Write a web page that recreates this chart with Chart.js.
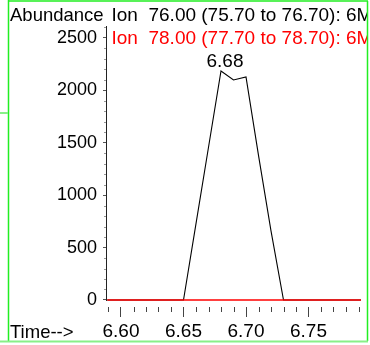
<!DOCTYPE html>
<html>
<head>
<meta charset="utf-8">
<script src="https://cdn.jsdelivr.net/npm/chart.js@4"></script>
<style>
  html, body { margin: 0; padding: 0; background: #ffffff; }
  canvas { display: block; }
</style>
</head>
<body>
<canvas id="c" width="370" height="345"></canvas>
<script>
// ---- data ----
const scanTimes = [6.589, 6.60, 6.61, 6.62, 6.63, 6.64, 6.65, 6.66, 6.67, 6.68, 6.69, 6.70, 6.71, 6.72, 6.73, 6.74, 6.75, 6.76, 6.77, 6.78, 6.792];
const ion76 = [0, 0, 0, 0, 0, 0, 0, 728, 1457, 2185, 2099, 2128, 1380, 660, 0, 0, 0, 0, 0, 0, 0];
const ion78 = [0, 0, 0, 0, 0, 0, 0, 0, 0, 0, 0, 0, 0, 0, 0, 0, 0, 0, 0, 0, 0];
const xTickLabels = ['6.60', '6.65', '6.70', '6.75'];
const yTickLabels = ['0', '500', '1000', '1500', '2000', '2500'];
const legendLines = ['Ion  76.00 (75.70 to 76.70): 6M', 'Ion  78.00 (77.70 to 78.70): 6M'];
const yAxisTitle = 'Abundance';
const xAxisTitle = 'Time-->';

const FONT = "'Liberation Sans', Arial, sans-serif";

const xTickValues = xTickLabels.map(Number);
const yTickValues = yTickLabels.map(Number);

const decor = {
  id: 'decor',
  afterDraw(chart) {
    const ctx = chart.ctx;
    const xs = chart.scales.x, ys = chart.scales.y;
    const area = chart.chartArea;
    ctx.save();
    // y axis line (from top down to zero)
    const y0 = ys.getPixelForValue(0);
    ctx.strokeStyle = '#222';
    ctx.lineWidth = 1;
    ctx.beginPath();
    ctx.moveTo(area.left - 0.5, area.top);
    ctx.lineTo(area.left - 0.5, y0 + 1);
    ctx.stroke();
    // y minor ticks every 100
    ctx.strokeStyle = '#999';
    for (let v = 100; v <= ys.max; v += 100) {
      if (v % 500 === 0) continue;
      const py = Math.round(ys.getPixelForValue(v)) + 0.5;
      ctx.beginPath();
      ctx.moveTo(area.left - 3, py);
      ctx.lineTo(area.left - 1, py);
      ctx.stroke();
    }
    // x minor ticks every 0.01
    ctx.strokeStyle = '#444';
    for (let k = Math.ceil(xs.min * 100); k <= Math.floor(xs.max * 100); k++) {
      if (k % 5 === 0) continue;
      const px = Math.round(xs.getPixelForValue(k / 100)) + 0.5;
      ctx.beginPath();
      ctx.moveTo(px, area.bottom);
      ctx.lineTo(px, area.bottom + 5);
      ctx.stroke();
    }
    // peak label
    let mi = 0;
    ion76.forEach((v, i) => { if (v > ion76[mi]) mi = i; });
    const meta = chart.getDatasetMeta(1);
    const pt = meta.data[mi];
    ctx.fillStyle = '#000';
    ctx.font = '19px ' + FONT;
    ctx.textAlign = 'center';
    ctx.textBaseline = 'alphabetic';
    ctx.fillText(scanTimes[mi].toFixed(2), pt.x + 4, pt.y - 4);
    // titles
    ctx.textAlign = 'left';
    ctx.font = '18.5px ' + FONT;
    ctx.fillText(yAxisTitle, 10, 20.5);
    ctx.fillText(xAxisTitle, 10, 337.5);
    // legend lines, clipped at frame
    ctx.save();
    ctx.beginPath();
    ctx.rect(0, 0, 367, 345);
    ctx.clip();
    ctx.font = '19px ' + FONT;
    ctx.fillStyle = '#000';
    ctx.fillText(legendLines[0], 111.5, 20.5);
    ctx.fillStyle = '#ff0000';
    ctx.fillText(legendLines[1], 111.5, 44);
    ctx.restore();
    // green frame
    ctx.strokeStyle = '#22ee22';
    ctx.lineWidth = 1.5;
    ctx.beginPath();
    ctx.moveTo(8.5, 0);
    ctx.lineTo(8.5, 341);
    ctx.moveTo(8.5, 1);
    ctx.lineTo(368, 1);
    ctx.moveTo(367.5, 1);
    ctx.lineTo(367.5, 341);
    ctx.stroke();
    ctx.strokeStyle = '#88f088';
    ctx.lineWidth = 2;
    ctx.beginPath();
    ctx.moveTo(0, 341.5);
    ctx.lineTo(368, 341.5);
    ctx.moveTo(0, 113);
    ctx.lineTo(8, 113);
    ctx.stroke();
    ctx.restore();
  }
};

new Chart(document.getElementById('c'), {
  type: 'line',
  data: {
    datasets: [
      {
        label: legendLines[1],
        data: scanTimes.map((t, i) => ({ x: t, y: ion78[i] })),
        borderColor: '#ff0000',
        borderWidth: 1.6,
        pointRadius: 0,
        tension: 0,
        order: 0,
        clip: false
      },
      {
        label: legendLines[0],
        data: scanTimes.map((t, i) => ({ x: t, y: ion76[i] })),
        borderColor: '#000000',
        borderWidth: 1.1,
        pointRadius: 0,
        tension: 0,
        order: 1,
        clip: false
      }
    ]
  },
  options: {
    responsive: false,
    animation: false,
    events: [],
    layout: { padding: { top: 26, right: 9, left: 0, bottom: 0 } },
    plugins: { legend: { display: false }, tooltip: { enabled: false }, title: { display: false } },
    scales: {
      x: {
        type: 'linear',
        min: 6.5888,
        max: 6.792,
        bounds: 'data',
        afterBuildTicks: (s) => { s.ticks = xTickValues.map(v => ({ value: v })); },
        afterFit: (s) => { s.height = 38; },
        border: { display: false },
        grid: { drawOnChartArea: false, drawTicks: true, tickLength: 10, tickColor: '#444', tickWidth: 1 },
        ticks: {
          color: '#000',
          font: { family: FONT, size: 19 },
          padding: 3,
          maxRotation: 0,
          autoSkip: false,
          callback: (v, i) => xTickLabels[i]
        }
      },
      y: {
        type: 'linear',
        min: -67,
        max: 2614,
        bounds: 'data',
        afterBuildTicks: (s) => { s.ticks = yTickValues.map(v => ({ value: v })); },
        afterFit: (s) => { s.width = 107; },
        border: { display: false },
        grid: { drawOnChartArea: false, drawTicks: true, tickLength: 4, tickColor: '#555', tickWidth: 1 },
        ticks: {
          color: '#000',
          font: { family: FONT, size: 18 },
          padding: 6,
          autoSkip: false,
          callback: (v, i) => yTickLabels[i]
        }
      }
    }
  },
  plugins: [decor]
});
</script>
</body>
</html>
